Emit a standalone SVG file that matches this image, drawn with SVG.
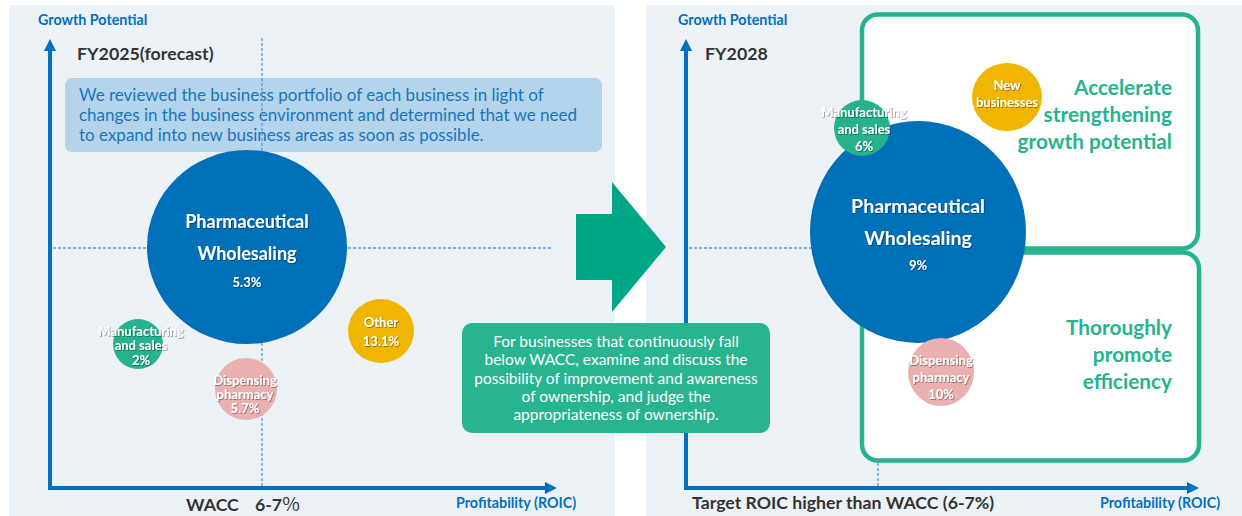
<svg xmlns="http://www.w3.org/2000/svg" width="1242" height="516" viewBox="0 0 1242 516">
  <style>
    .panel { fill: #edf2f6; }
    .axis { fill: none; stroke: #0070c0; stroke-width: 4; }
    .guide { fill: none; stroke: #5b9bd5; stroke-width: 1.3; stroke-dasharray: 3 2; }
    .axis-label { font-family: Lato, "Liberation Sans", sans-serif; font-weight: 700; font-size: 14.3px; fill: #0070c0; }
    .year { font-family: Lato, "Liberation Sans", sans-serif; font-weight: 700; font-size: 17.8px; fill: #333333; }
    .note { font-family: Lato, "Liberation Sans", sans-serif; font-size: 17px; fill: #1a74bd; }
    .callout { font-family: Lato, "Liberation Sans", sans-serif; font-size: 15.5px; fill: #ffffff; text-anchor: middle; }
    .big { font-family: Lato, "Liberation Sans", sans-serif; font-weight: 700; fill: #ffffff; text-anchor: middle; filter: url(#shadow); }
    .pct { font-family: Lato, "Liberation Sans", sans-serif; font-weight: 700; font-size: 13px; fill: #ffffff; text-anchor: middle; filter: url(#shadow); }
    .small { font-family: Lato, "Liberation Sans", sans-serif; font-weight: 700; font-size: 13px; fill: #ffffff; text-anchor: middle; filter: url(#shadow); }
    .strategy { font-family: Lato, "Liberation Sans", sans-serif; font-weight: 700; font-size: 20.8px; fill: #26b38e; text-anchor: end; }
    .base { font-family: Lato, "Liberation Sans", sans-serif; font-weight: 700; font-size: 17.7px; fill: #333333; }
    .zone { fill: #ffffff; stroke: #26b38e; stroke-width: 4.5; }
  </style>
  <defs>
    <marker id="head" viewBox="0 0 12 12" markerWidth="12" markerHeight="12" markerUnits="userSpaceOnUse" refX="1" refY="6" orient="auto-start-reverse">
      <path d="M0,0 L12,6 L0,12 z" fill="#0070c0"/>
    </marker>
    <filter id="shadow" x="-20%" y="-30%" width="140%" height="160%">
      <feDropShadow dx="0.8" dy="0.8" stdDeviation="0.7" flood-color="#000000" flood-opacity="0.45"/>
    </filter>
  </defs>

  <!-- backgrounds -->
  <rect class="panel" x="9" y="5" width="606" height="511"/>
  <rect class="panel" x="646" y="5" width="596" height="511"/>

  <!-- ===== FY2025 chart ===== -->
  <g id="chart-fy2025">
    <text class="axis-label" x="38" y="25">Growth Potential</text>
    <text class="year" x="77" y="60">FY2025(forecast)</text>

    <g id="note-fy2025">
      <rect x="65" y="78" width="537" height="74" rx="7" fill="#b3d4ea"/>
      <text class="note" x="79" y="101">We reviewed the business portfolio of each business in light of</text>
      <text class="note" x="79" y="121">changes in the business environment and determined that we need</text>
      <text class="note" x="79" y="141">to expand into new business areas as soon as possible.</text>
    </g>

    <g id="guides-fy2025">
      <line class="guide" x1="262" y1="38" x2="262" y2="486"/>
      <line class="guide" x1="53" y1="248" x2="553" y2="248"/>
    </g>

    <g id="axes-fy2025">
      <path class="axis" d="M50,50 V488 H546" marker-start="url(#head)" marker-end="url(#head)"/>
    </g>

    <g id="pharma-wholesaling-2025">
      <ellipse cx="247" cy="247" rx="100" ry="97" fill="#0070b9"/>
      <text class="big" x="247" y="228" font-size="18px">Pharmaceutical</text>
      <text class="big" x="247" y="260" font-size="18px">Wholesaling</text>
      <text class="pct" x="247" y="287">5.3%</text>
    </g>
    <g id="manufacturing-2025">
      <circle cx="138" cy="344" r="25" fill="#25b28d"/>
      <text class="small" x="141" y="336">Manufacturing</text>
      <text class="small" x="141" y="350">and sales</text>
      <text class="small" x="141" y="365">2%</text>
    </g>
    <g id="dispensing-2025">
      <ellipse cx="246" cy="389" rx="31" ry="31" fill="#ebb1b1"/>
      <text class="small" x="245" y="385">Dispensing</text>
      <text class="small" x="245" y="399">pharmacy</text>
      <text class="small" x="245" y="413">5.7%</text>
    </g>
    <g id="other-2025">
      <ellipse cx="381" cy="331" rx="33" ry="32" fill="#f0b500"/>
      <text class="small" x="381" y="327">Other</text>
      <text class="small" x="381" y="346">13.1%</text>
    </g>

    <text class="base" x="186" y="511">WACC<tspan x="255">6-7</tspan><tspan font-weight="400" font-family="'Noto Sans CJK JP', sans-serif" font-size="19px">%</tspan></text>
    <text class="axis-label" x="456" y="508">Profitability (ROIC)</text>
  </g>

  <!-- transition arrow -->
  <g id="transition-arrow">
    <polygon points="576,214 612,214 612,182 666,247 612,312 612,280 576,280" fill="#00a685"/>
  </g>

  <!-- ===== FY2028 chart ===== -->
  <g id="chart-fy2028">
    <text class="axis-label" x="678" y="25">Growth Potential</text>
    <text class="year" x="705" y="60">FY2028</text>

    <g id="guides-fy2028">
      <line class="guide" x1="878" y1="38" x2="878" y2="486"/>
      <line class="guide" x1="689" y1="248" x2="860" y2="248"/>
    </g>

    <g id="zone-growth">
      <rect class="zone" x="862" y="14.5" width="336" height="234" rx="16"/>
    </g>
    <g id="zone-efficiency">
      <rect class="zone" x="862" y="252.5" width="337" height="208" rx="16"/>
    </g>

    <g id="axes-fy2028">
      <path class="axis" d="M686,50 V488 H1188" marker-start="url(#head)" marker-end="url(#head)"/>
    </g>

    <text class="strategy" x="1172" y="95">Accelerate</text>
    <text class="strategy" x="1172" y="122">strengthening</text>
    <text class="strategy" x="1172" y="149">growth potential</text>
    <text class="strategy" x="1172" y="335">Thoroughly</text>
    <text class="strategy" x="1172" y="362">promote</text>
    <text class="strategy" x="1172" y="389">efficiency</text>

    <g id="pharma-wholesaling-2028">
      <ellipse cx="918" cy="232" rx="108" ry="111" fill="#0070b9"/>
      <text class="big" x="918" y="213" font-size="19.5px">Pharmaceutical</text>
      <text class="big" x="918" y="245" font-size="19.5px">Wholesaling</text>
      <text class="pct" x="918" y="270">9%</text>
    </g>
    <g id="manufacturing-2028">
      <circle cx="862" cy="128" r="28" fill="#25b28d"/>
      <text class="small" x="864" y="117">Manufacturing</text>
      <text class="small" x="864" y="134">and sales</text>
      <text class="small" x="864" y="151">6%</text>
    </g>
    <g id="new-businesses-2028">
      <ellipse cx="1007" cy="97" rx="35" ry="34" fill="#f0b500"/>
      <text class="small" x="1007" y="90">New</text>
      <text class="small" x="1007" y="107">businesses</text>
    </g>
    <g id="dispensing-2028">
      <ellipse cx="941" cy="372" rx="33" ry="34" fill="#ebb1b1"/>
      <text class="small" x="941" y="365">Dispensing</text>
      <text class="small" x="941" y="382">pharmacy</text>
      <text class="small" x="941" y="399">10%</text>
    </g>

    <text class="base" x="692" y="509">Target ROIC higher than WACC (6-7%)</text>
    <text class="axis-label" x="1100" y="508">Profitability (ROIC)</text>
  </g>

  <!-- policy callout spanning both charts -->
  <g id="callout">
    <rect x="462" y="323" width="308" height="110" rx="10" fill="#27b48f"/>
    <text class="callout" x="616" y="347">For businesses that continuously fall</text>
    <text class="callout" x="616" y="365">below WACC, examine and discuss the</text>
    <text class="callout" x="616" y="383.5">possibility of improvement and awareness</text>
    <text class="callout" x="616" y="402">of ownership, and judge the</text>
    <text class="callout" x="616" y="420">appropriateness of ownership.</text>
  </g>
</svg>
